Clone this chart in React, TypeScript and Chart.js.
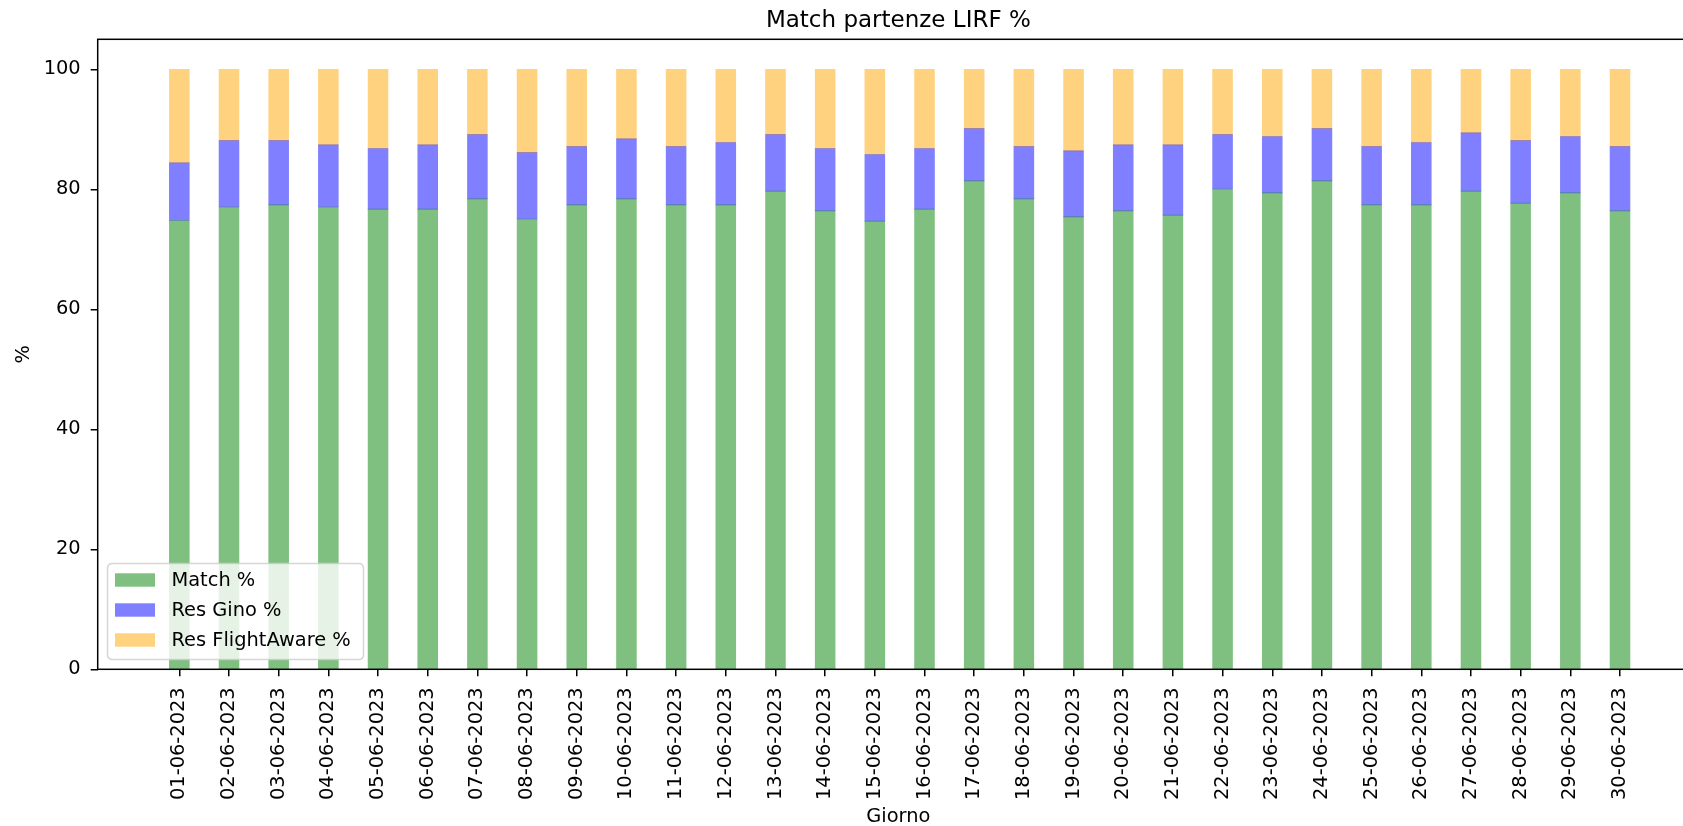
import React, { useEffect, useRef } from "react";
import { Chart, registerables } from "chart.js";

Chart.register(...registerables);

const days: string[] = [
  "01-06-2023", "02-06-2023", "03-06-2023", "04-06-2023", "05-06-2023",
  "06-06-2023", "07-06-2023", "08-06-2023", "09-06-2023", "10-06-2023",
  "11-06-2023", "12-06-2023", "13-06-2023", "14-06-2023", "15-06-2023",
  "16-06-2023", "17-06-2023", "18-06-2023", "19-06-2023", "20-06-2023",
  "21-06-2023", "22-06-2023", "23-06-2023", "24-06-2023", "25-06-2023",
  "26-06-2023", "27-06-2023", "28-06-2023", "29-06-2023", "30-06-2023",
];

const matchPct: number[] = [
  74.8, 77.05, 77.4, 77.05, 76.7, 76.7, 78.4, 75.05, 77.4, 78.4,
  77.4, 77.4, 79.7, 76.4, 74.7, 76.7, 81.4, 78.4, 75.4, 76.4,
  75.7, 80.05, 79.4, 81.4, 77.4, 77.4, 79.7, 77.7, 79.4, 76.4,
];

const resGinoPct: number[] = [
  9.6, 11.05, 10.7, 10.35, 10.1, 10.7, 10.7, 11.05, 9.7, 10.0,
  9.7, 10.4, 9.4, 10.4, 11.1, 10.1, 8.7, 8.7, 11.0, 11.0,
  11.7, 9.05, 9.4, 8.7, 9.7, 10.4, 9.7, 10.4, 9.4, 10.7,
];

const resFlightAwarePct: number[] = [
  15.6, 11.9, 11.9, 12.6, 13.2, 12.6, 10.9, 13.9, 12.9, 11.6,
  12.9, 12.2, 10.9, 13.2, 14.2, 13.2, 9.9, 12.9, 13.6, 12.6,
  12.6, 10.9, 11.2, 9.9, 12.9, 12.2, 10.6, 11.9, 11.2, 12.9,
];

const yTicks: number[] = [0, 20, 40, 60, 80, 100];

const seriesLabels: string[] = ["Match %", "Res Gino %", "Res FlightAware %"];
const seriesColors: string[] = [
  "rgba(0,128,0,0.5)",
  "rgba(0,0,255,0.5)",
  "rgba(255,165,0,0.5)",
];

const TITLE = "Match partenze LIRF %";
const FONT = "DejaVu Sans";

export default function App() {
  const ref = useRef<HTMLCanvasElement | null>(null);

  useEffect(() => {
    document.body.style.margin = "0";
    document.body.style.overflow = "hidden";
    const canvas = ref.current;
    if (!canvas) return;

    const toPts = (arr: number[]) => arr.map((v, i) => ({ x: i, y: v }));

    const framePlugin = {
      id: "framePlugin",
      afterDatasetsDraw(chart: any) {
        const { ctx, chartArea } = chart;
        const { left, right, top, bottom } = chartArea;
        ctx.save();
        // spines
        ctx.strokeStyle = "#000";
        ctx.lineWidth = 1.5;
        ctx.strokeRect(left, top, right - left, bottom - top);

        // title
        ctx.fillStyle = "#000";
        ctx.font = `23px "${FONT}"`;
        ctx.textAlign = "center";
        ctx.textBaseline = "alphabetic";
        ctx.fillText(TITLE, (left + right) / 2, 27);

        // legend
        const lx = 107.5, ly = 563.5, lw = 256, lh = 96, r = 5;
        ctx.beginPath();
        ctx.moveTo(lx + r, ly);
        ctx.lineTo(lx + lw - r, ly);
        ctx.quadraticCurveTo(lx + lw, ly, lx + lw, ly + r);
        ctx.lineTo(lx + lw, ly + lh - r);
        ctx.quadraticCurveTo(lx + lw, ly + lh, lx + lw - r, ly + lh);
        ctx.lineTo(lx + r, ly + lh);
        ctx.quadraticCurveTo(lx, ly + lh, lx, ly + lh - r);
        ctx.lineTo(lx, ly + r);
        ctx.quadraticCurveTo(lx, ly, lx + r, ly);
        ctx.closePath();
        ctx.fillStyle = "rgba(255,255,255,0.8)";
        ctx.fill();
        ctx.strokeStyle = "rgba(204,204,204,0.8)";
        ctx.lineWidth = 1.5;
        ctx.stroke();

        const ds = chart.data.datasets;
        ctx.font = `19.4px "${FONT}"`;
        ctx.textAlign = "left";
        ctx.textBaseline = "middle";
        ds.forEach((d: any, i: number) => {
          const cy = 580 + i * 30;
          ctx.fillStyle = d.backgroundColor;
          ctx.fillRect(115, cy - 6.7, 40, 13.4);
          ctx.fillStyle = "#000";
          ctx.fillText(d.label, 171.5, cy + 1);
        });
        ctx.restore();
      },
    };

    const chart = new Chart(canvas, {
      type: "bar",
      data: {
        datasets: [
          { label: seriesLabels[0], data: toPts(matchPct), backgroundColor: seriesColors[0] },
          { label: seriesLabels[1], data: toPts(resGinoPct), backgroundColor: seriesColors[1] },
          { label: seriesLabels[2], data: toPts(resFlightAwarePct), backgroundColor: seriesColors[2] },
        ] as any,
      },
      options: {
        responsive: false,
        animation: false,
        devicePixelRatio: 1,
        layout: { padding: { top: 39.3, right: 21, left: 0, bottom: 0 } },
        datasets: { bar: { barThickness: 19.9 } } as any,
        plugins: {
          legend: { display: false },
          title: { display: false },
          tooltip: { enabled: false },
        },
        scales: {
          x: {
            type: "linear",
            stacked: true,
            offset: false,
            min: -1.643,
            max: 30.59,
            afterBuildTicks: (scale: any) => {
              scale.ticks = days.map((_, i) => ({ value: i }));
            },
            afterFit: (scale: any) => {
              scale.height = 826 - 669.3;
            },
            grid: {
              drawOnChartArea: false,
              drawTicks: true,
              tickLength: 7,
              color: "#000",
              lineWidth: 1.5,
              offset: false,
            },
            border: { display: false },
            ticks: {
              autoSkip: false,
              minRotation: 90,
              maxRotation: 90,
              padding: 11,
              color: "#000",
              font: { family: FONT, size: 19.4 },
              callback: (v: any) => days[Math.round(Number(v))] ?? "",
            },
            title: {
              display: true,
              text: "Giorno",
              color: "#000",
              font: { family: FONT, size: 19.4 },
              padding: { top: 0, bottom: -3 },
            },
          } as any,
          y: {
            type: "linear",
            stacked: true,
            min: 0,
            max: 105,
            afterBuildTicks: (scale: any) => {
              scale.ticks = yTicks.map((v) => ({ value: v }));
            },
            afterFit: (scale: any) => {
              scale.width = 97.7;
            },
            grid: {
              drawOnChartArea: false,
              drawTicks: true,
              tickLength: 7,
              color: "#000",
              lineWidth: 1.5,
            },
            border: { display: false },
            ticks: {
              padding: 10,
              color: "#000",
              font: { family: FONT, size: 19.4 },
            },
            title: {
              display: true,
              text: "%",
              color: "#000",
              font: { family: FONT, size: 19.4 },
              padding: { top: 12, bottom: 0 },
            },
          } as any,
        },
      },
      plugins: [framePlugin],
    });

    return () => chart.destroy();
  }, []);

  return (
    <div style={{ width: 1683, height: 826, overflow: "hidden", background: "#fff" }}>
      <canvas ref={ref} width={1720} height={826} style={{ display: "block" }} />
    </div>
  );
}
